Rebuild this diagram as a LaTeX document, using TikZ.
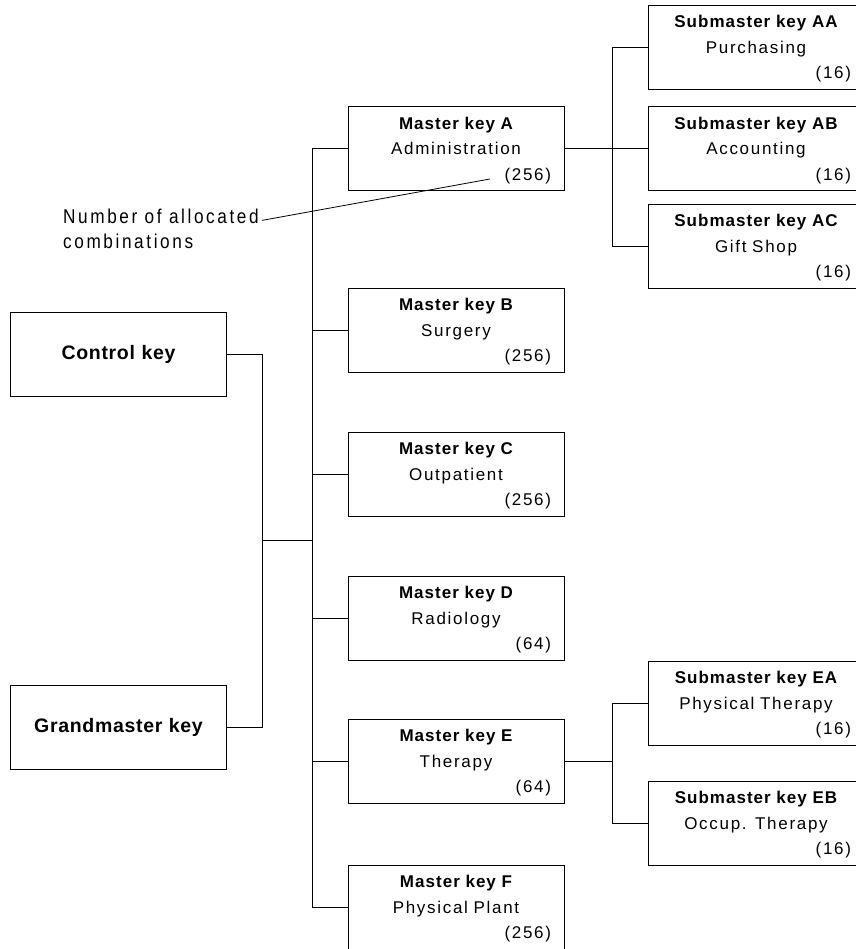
\documentclass[tikz,border=0pt]{standalone}
\usepackage{fontspec}
\usepackage{tikz}
\newfontfamily\keyfont[LetterSpace=10]{Liberation Sans}
\newfontfamily\keyboldfont[LetterSpace=6]{Liberation Sans}
\newfontfamily\topfont[LetterSpace=3.5]{Liberation Sans}
\newfontfamily\notefont[FakeStretch=0.86,LetterSpace=13]{Liberation Sans}
\newcommand{\combs}[1]{\makebox[190pt][r]{#1}}
\newcommand{\keyname}[1]{{\keyboldfont\bfseries\rule{0pt}{16pt}#1}}

\begin{document}
\begin{tikzpicture}[x = 1pt , y = -1pt ,
    keybox/.style = {draw , line width = 0.9pt , minimum height = 84pt , inner xsep = 13pt ,
        text width = 190pt , align = center ,
        font = \keyfont\fontsize{17}{25.5}\selectfont},
    topbox/.style = {keybox , font = \topfont\bfseries\fontsize{19.5}{24}\selectfont},
    link/.style = {line width = 0.8pt}]
    \useasboundingbox (0,0) rectangle (855,949);

    % top keys
    \node[topbox] (ctrl) at (118.5,354) {Control key};
    \node[topbox] (gmk) at (118.5,727) {Grandmaster key};

    % master keys
    \node[keybox] (mA) at (456,148.5) {\keyname{Master key A}\\Administration\\\combs{(256)}};
    \node[keybox] (mB) at (456,330) {\keyname{Master key B}\\Surgery\\\combs{(256)}};
    \node[keybox] (mC) at (456,474) {\keyname{Master key C}\\Outpatient\\\combs{(256)}};
    \node[keybox] (mD) at (456,618) {\keyname{Master key D}\\Radiology\\\combs{(64)}};
    \node[keybox] (mE) at (456,761) {\keyname{Master key E}\\Therapy\\\combs{(64)}};
    \node[keybox] (mF) at (456,907) {\keyname{Master key F}\\Physical Plant\\\combs{(256)}};

    % submaster keys
    \node[keybox] (sAA) at (756,47) {\keyname{Submaster key AA}\\Purchasing\\\combs{(16)}};
    \node[keybox] (sAB) at (756,148.5) {\keyname{Submaster key AB}\\Accounting\\\combs{(16)}};
    \node[keybox] (sAC) at (756,246) {\keyname{Submaster key AC}\\Gift Shop\\\combs{(16)}};
    \node[keybox] (sEA) at (756,703) {\keyname{Submaster key EA}\\Physical Therapy\\\combs{(16)}};
    \node[keybox] (sEB) at (756,823) {\keyname{Submaster key EB}\\Occup. Therapy\\\combs{(16)}};

    % connectors
    \coordinate (bar) at (262,0);
    \coordinate (trunk) at (312,0);
    \coordinate (fork) at (612,0);
    \coordinate (join) at (262,540.5);
    \draw[link] (ctrl.east) -| (bar |- gmk.east) -- (gmk.east);
    \draw[link] (join) -- (join -| trunk);
    \draw[link] (mA.west) -- (mA.west -| trunk) -- (mF.west -| trunk) -- (mF.west);
    \foreach \k in {mB,mC,mD,mE}
        \draw[link] (\k.west -| trunk) -- (\k.west);
    \draw[link] (mA.east) -- (mA.east -| fork);
    \draw[link] (sAA.west) -- (sAA.west -| fork) -- (sAC.west -| fork) -- (sAC.west);
    \draw[link] (sAB.west -| fork) -- (sAB.west);
    \draw[link] (mE.east) -- (mE.east -| fork);
    \draw[link] (sEA.west) -- (sEA.west -| fork) -- (sEB.west -| fork) -- (sEB.west);

    % note
    \node[anchor = west , inner sep = 0pt , align = left ,
        font = \notefont\fontsize{20}{25}\selectfont] (note) at (63,228.4) {Number of allocated\\combinations};
    \coordinate (numA) at (490,179);
    \draw[link] ([xshift = 3pt , yshift = 8pt]note.east) -- (numA);
\end{tikzpicture}
\end{document}
